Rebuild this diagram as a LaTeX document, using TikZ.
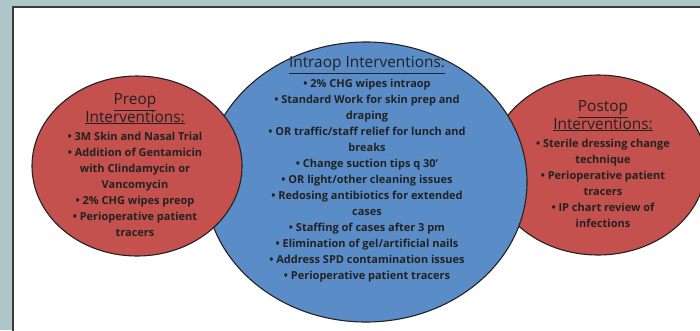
\documentclass[tikz,border=0pt]{standalone}
\usepackage{fontspec}
\setmainfont{Open Sans}
\usetikzlibrary{shapes.geometric}
\definecolor{bgc}{HTML}{AEC6C8}
\definecolor{framec}{HTML}{3A3A3A}
\definecolor{redc}{HTML}{C4514E}
\definecolor{bluec}{HTML}{5A8CC8}
\definecolor{txtc}{HTML}{222222}
\newcommand{\lines}[1]{\begin{tabular}{@{}c@{}}#1\end{tabular}}
\tikzset{
  blob/.style={ellipse, draw=txtc, line width=1.1pt, inner sep=0pt},
  body/.style={text=txtc, font=\fontsize{11}{16}\selectfont\bfseries, inner sep=0pt},
  ttl/.style={text=txtc, font=\fontsize{15.4}{16.5}\selectfont, inner sep=0pt}
}
\begin{document}
\begin{tikzpicture}[x=1pt,y=-1pt]
\useasboundingbox (0,0) rectangle (700,330);
\fill[bgc] (0,0) rectangle (700,330);
\fill[white] (13,7) rectangle (702,332);
\draw[framec, line width=1.6pt] (13,332) -- (13,7) -- (702,7);
% ellipses
\node[blob, fill=redc, minimum width=216pt, minimum height=180pt] (post) at (598,165) {};
\node[blob, fill=bluec, minimum width=322pt, minimum height=280pt] (intra) at (366,182) {};
\node[blob, fill=redc, minimum width=210pt, minimum height=180pt] (pre) at (137,166) {};
% preop text
\node[ttl, anchor=north] (pret) at (135,93) {\lines{\underline{Preop}\\\underline{Interventions:}}};
\node[body, anchor=north] (preb) at (135,129) {\lines{• 3M Skin and Nasal Trial\\• Addition of Gentamicin\\with Clindamycin or\\Vancomycin\\• 2\% CHG wipes preop\\• Perioperative patient\\tracers}};
% intraop text
\node[ttl, anchor=north] (intt) at (367,56) {\lines{\underline{Intraop Interventions:}}};
\node[body, anchor=north] (intb) at (367,76) {\lines{• 2\% CHG wipes intraop\\• Standard Work for skin prep and\\draping\\• OR traffic/staff relief for lunch and\\breaks\\• Change suction tips q 30’\\• OR light/other cleaning issues\\• Redosing antibiotics for extended\\cases\\• Staffing of cases after 3 pm\\• Elimination of gel/artificial nails\\• Address SPD contamination issues\\• Perioperative patient tracers}};
% postop text
\node[ttl, anchor=north] (postt) at (603,100) {\lines{\underline{Postop}\\\underline{Interventions:}}};
\node[body, anchor=north] (postb) at (603,136) {\lines{• Sterile dressing change\\technique\\• Perioperative patient\\tracers\\• IP chart review of\\infections}};
\end{tikzpicture}
\end{document}
